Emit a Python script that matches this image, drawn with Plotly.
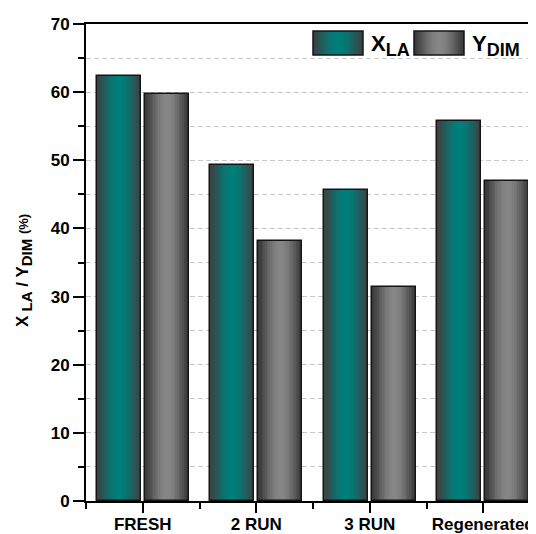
import numpy as np
import plotly.graph_objects as go

# ---------------- data ----------------
categories = ["FRESH", "2 RUN", "3 RUN", "Regenerated"]
x_la = [62.3, 49.3, 45.7, 55.8]
y_dim = [59.8, 38.1, 31.4, 46.9]
y_tick_values = [0, 10, 20, 30, 40, 50, 60, 70]
legend_labels = ["X", "Y"]
legend_subs = ["LA", "DIM"]

# ---------------- style ----------------
FONT = "Liberation Sans, Arial, sans-serif"
N = 26
BAR_W = 0.388
OFFSETS = [-0.405, 0.018]
EDGE = [(60, 66, 66), (56, 56, 56)]
CENTER = [(0, 126, 122), (134, 134, 134)]

PAGE_OFF = 8                      # default body margin of the html page
PL, PT, PB, PR = 86, 24, 501, 536  # plot area edges in page pixels
W, H = PR - PAGE_OFF, 534 - PAGE_OFF
ML, MT = PL - PAGE_OFF, PT - PAGE_OFF
MB = H - (PB - PAGE_OFF)
MR = 0
PW, PH = PR - PL, PB - PT


def grad(edge, center, t):
    s = np.sin(np.pi * t) ** 1.3
    return "rgb(%d,%d,%d)" % tuple(round(e + (c - e) * s) for e, c in zip(edge, center))


xs = list(range(len(categories)))
series = [x_la, y_dim]

fig = go.Figure()
for si, vals in enumerate(series):
    off = OFFSETS[si]
    for k in range(N):
        t = (k + 0.5) / N
        fig.add_trace(go.Bar(
            x=xs, y=vals,
            offset=off + k * BAR_W / N,
            width=BAR_W - k * BAR_W / N,
            marker=dict(color=grad(EDGE[si], CENTER[si], t), line=dict(width=0)),
            showlegend=False, hoverinfo="skip",
        ))
    fig.add_trace(go.Bar(
        x=xs, y=vals, offset=off, width=BAR_W,
        marker=dict(color="rgba(0,0,0,0)", line=dict(color="#141414", width=1.5)),
        showlegend=False, hoverinfo="skip",
    ))


# ---------------- legend (drawn manually) ----------------
def px_x(p):
    return (p - PL) / PW


def px_y(p):
    return (PB - p) / PH


shapes = []
annotations = []
sw_left = [313, 414]
txt_left = [369, 470]
sw_top, sw_bot = 31, 55
for si in range(2):
    x0, x1 = px_x(sw_left[si]), px_x(sw_left[si] + 50)
    y0, y1 = px_y(sw_bot), px_y(sw_top)
    for k in range(N):
        t = (k + 0.5) / N
        shapes.append(dict(type="rect", xref="paper", yref="paper",
                           x0=x0 + (x1 - x0) * k / N, x1=x1, y0=y0, y1=y1,
                           fillcolor=grad(EDGE[si], CENTER[si], t),
                           line=dict(width=0), layer="above"))
    shapes.append(dict(type="rect", xref="paper", yref="paper",
                       x0=x0, x1=x1, y0=y0, y1=y1,
                       fillcolor="rgba(0,0,0,0)",
                       line=dict(color="#141414", width=1.5), layer="above"))
    annotations.append(dict(
        xref="paper", yref="paper", x=px_x(txt_left[si]), y=px_y(45),
        xanchor="left", yanchor="middle", showarrow=False,
        text="%s<sub><span style='font-size:18px'>%s</span></sub>" % (legend_labels[si], legend_subs[si]),
        font=dict(family=FONT, size=22, color="black", weight="bold"),
    ))

# y-axis title
annotations.append(dict(
    xref="paper", yref="paper", x=px_x(24), y=px_y(271),
    xanchor="center", yanchor="middle", showarrow=False, textangle=-90,
    text=("X<sub><span style='font-size:15px'> LA</span></sub> / "
          "Y<sub><span style='font-size:15px'>DIM</span></sub> "
          "<span style='font-size:13px'>(%)</span>"),
    font=dict(family=FONT, size=17, color="black", weight="bold"),
))

GRID = "#c8c8c8"
fig.update_layout(
    width=W, height=H,
    margin=dict(l=ML, r=MR, t=MT, b=MB, autoexpand=False),
    paper_bgcolor="white", plot_bgcolor="white",
    barmode="overlay", bargap=0, hovermode=False,
    showlegend=False,
    shapes=shapes, annotations=annotations,
    xaxis=dict(
        range=[-0.5, -0.5 + PW / 113.5],
        tickmode="array", tickvals=xs, ticktext=categories,
        ticks="outside", ticklen=10, tickwidth=2, tickcolor="black",
        ticklabelstandoff=-3,
        showline=True, linewidth=2, linecolor="black", mirror=True,
        showgrid=False, zeroline=False, automargin=False,
        tickfont=dict(family=FONT, size=17, color="black", weight="bold"),
        minor=dict(tickmode="array", tickvals=[-0.5, 0.5, 1.5, 2.5, 3.5],
                   ticks="outside", ticklen=6, tickwidth=2, tickcolor="black"),
    ),
    yaxis=dict(
        range=[0, 70],
        tickmode="array", tickvals=y_tick_values,
        ticks="outside", ticklen=11, tickwidth=2, tickcolor="black",
        showline=True, linewidth=2, linecolor="black",
        showgrid=True, gridcolor=GRID, griddash="5px,3px", gridwidth=1,
        zeroline=False, automargin=False,
        tickfont=dict(family=FONT, size=17, color="black", weight="bold"),
        minor=dict(dtick=5, tick0=0, ticks="outside", ticklen=6, tickwidth=2,
                   tickcolor="black", showgrid=True, gridcolor=GRID,
                   griddash="5px,3px", gridwidth=1),
    ),
)

fig.write_html("out.html")
